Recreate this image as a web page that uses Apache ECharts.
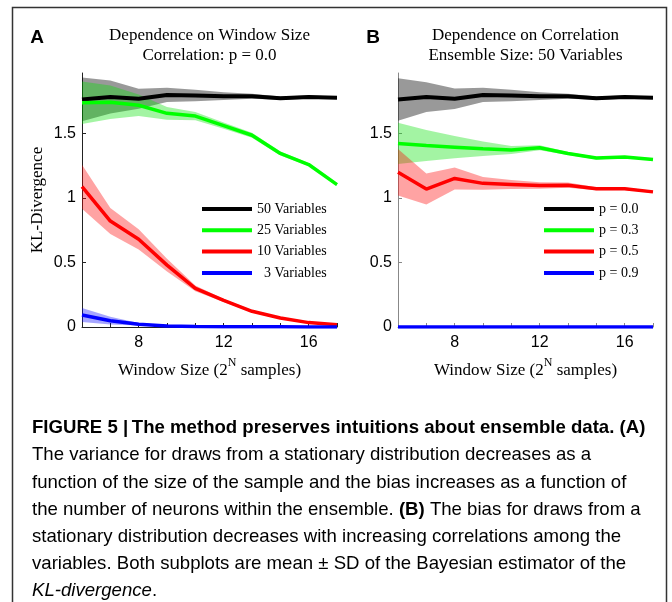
<!DOCTYPE html>
<html>
<head>
<meta charset="utf-8">
<script src="https://cdn.jsdelivr.net/npm/echarts@6/dist/echarts.min.js"></script>
<style>
  html, body { margin: 0; padding: 0; background: #fff; }
  #chart { width: 672px; height: 602px; }
</style>
</head>
<body>
<div id="chart"></div>
<script>
// Window size as log2 of the number of samples (one entry per simulated window)
const windowN = ['5.3', '6.6', '8', '9.3', '10.6', '12', '13.3', '14.6', '16', '17.2'];
const shownTicks = ['8', '12', '16'];
const yTicks = [0, 0.5, 1, 1.5];

// Panel A: ensemble size sweep, correlation p = 0.0 (mean and SD of KL-divergence)
const sizeNames = ['50 Variables', '25 Variables', '10 Variables', '3 Variables'];
const mean50 = [1.765, 1.783, 1.770, 1.800, 1.796, 1.790, 1.790, 1.775, 1.783, 1.778];
const sd50   = [0.170, 0.128, 0.077, 0.055, 0.045, 0.030, 0.020, 0.013, 0.012, 0.010];
const mean25 = [1.740, 1.744, 1.720, 1.657, 1.636, 1.562, 1.487, 1.346, 1.260, 1.104];
const sd25   = [0.165, 0.130, 0.084, 0.050, 0.032, 0.025, 0.020, 0.015, 0.012, 0.010];
const mean10 = [1.088, 0.822, 0.680, 0.480, 0.300, 0.206, 0.122, 0.070, 0.034, 0.018];
const sd10   = [0.170, 0.100, 0.078, 0.050, 0.022, 0.012, 0.010, 0.008, 0.006, 0.005];
const mean3  = [0.093, 0.049, 0.021, 0.008, 0.004, 0.002, 0.001, 0.001, 0.0005, 0.0005];
const sd3    = [0.055, 0.030, 0.010, 0.005, 0.003, 0.002, 0.001, 0.001, 0.001, 0.001];

// Panel B: correlation sweep, ensemble of 50 variables
const corrNames = ['p = 0.0', 'p = 0.3', 'p = 0.5', 'p = 0.9'];
const meanP00 = [1.765, 1.783, 1.770, 1.800, 1.796, 1.790, 1.790, 1.775, 1.783, 1.778];
const sdP00   = [0.165, 0.115, 0.080, 0.055, 0.045, 0.030, 0.020, 0.013, 0.012, 0.010];
const meanP03 = [1.424, 1.408, 1.395, 1.382, 1.372, 1.390, 1.346, 1.310, 1.318, 1.300];
const sdP03   = [0.160, 0.120, 0.087, 0.056, 0.031, 0.020, 0.012, 0.010, 0.008, 0.008];
const meanP05 = [1.200, 1.070, 1.152, 1.114, 1.106, 1.098, 1.100, 1.072, 1.072, 1.048];
const sdP05   = [0.180, 0.120, 0.085, 0.050, 0.035, 0.025, 0.020, 0.012, 0.010, 0.008];
const meanP09 = [0, 0, 0, 0, 0, 0, 0, 0, 0, 0];
const sdP09   = [0, 0, 0, 0, 0, 0, 0, 0, 0, 0];

const lineColors = ['#000000', '#00ff00', '#ff0000', '#0000ff'];
const bandColors = ['rgba(0,0,0,0.40)', 'rgba(0,225,0,0.36)', 'rgba(255,0,0,0.36)', 'rgba(0,0,255,0.35)'];

const SERIF = '"Liberation Serif", "Times New Roman", serif';
const SANS = '"Liberation Sans", Arial, sans-serif';

// mean ± SD band: invisible lower edge, then a stacked 2·SD area on top of it
function band(key, mean, sd, color, axis) {
  const common = {
    type: 'line', xAxisIndex: axis, yAxisIndex: axis, stack: key, stackStrategy: 'all',
    symbol: 'none', silent: true, z: 1, lineStyle: { width: 0, opacity: 0 }
  };
  return [
    Object.assign({ name: key + ' lower', data: mean.map((m, i) => m - sd[i]) }, common),
    Object.assign({ name: key + ' spread', data: sd.map(s => 2 * s),
      areaStyle: { color: color, opacity: 1 } }, common)
  ];
}

function meanLine(name, mean, color, axis, width) {
  return {
    type: 'line', name: name, xAxisIndex: axis, yAxisIndex: axis, data: mean,
    symbol: 'none', z: 3, color: color, itemStyle: { color: color },
    lineStyle: { color: color, width: width }
  };
}

const panelA = [mean50, mean25, mean10, mean3];
const panelAsd = [sd50, sd25, sd10, sd3];
const panelB = [meanP00, meanP03, meanP05, meanP09];
const panelBsd = [sdP00, sdP03, sdP05, sdP09];

const series = [];
panelA.forEach((m, k) => series.push(...band('A' + k, m, panelAsd[k], bandColors[k], 0)));
panelB.forEach((m, k) => series.push(...band('B' + k, m, panelBsd[k], bandColors[k], 1)));
panelA.forEach((m, k) => series.push(meanLine(sizeNames[k], m, lineColors[k], 0, k === 0 ? 4 : 3.5)));
panelB.forEach((m, k) => series.push(meanLine(corrNames[k], m, lineColors[k], 1, k === 0 ? 4 : 3.5)));

function xAxis(idx, axisColor) {
  return {
    type: 'category', gridIndex: idx, data: windowN, boundaryGap: false,
    axisLine: { lineStyle: { color: axisColor, width: 1 } },
    axisTick: { inside: true, length: 4, interval: 0, lineStyle: { color: axisColor } },
    axisLabel: {
      interval: (i, v) => shownTicks.includes(v), margin: 8,
      fontFamily: SANS, fontSize: 16, color: '#000'
    },
    splitLine: { show: false },
    name: 'Window Size (2{sup|N} samples)', nameLocation: 'middle', nameGap: 30,
    nameTextStyle: {
      fontFamily: SERIF, fontSize: 17, color: '#000',
      rich: { sup: { fontFamily: SERIF, fontSize: 12, color: '#000', padding: [0, 0, 16, 0] } }
    }
  };
}

function yAxis(idx, axisColor, withName) {
  return {
    type: 'value', gridIndex: idx, min: 0, max: 1.97,
    axisLine: { show: true, lineStyle: { color: axisColor, width: 1 } },
    axisTick: { show: true, inside: true, length: 4, customValues: yTicks, lineStyle: { color: axisColor } },
    axisLabel: { customValues: yTicks, margin: 6, fontFamily: SANS, fontSize: 16, color: '#000' },
    splitLine: { show: false },
    name: withName ? 'KL-Divergence' : '', nameLocation: 'middle', nameGap: 36, nameRotate: 90,
    nameTextStyle: { fontFamily: SERIF, fontSize: 17, color: '#000' }
  };
}

function legend(names, left, pad) {
  return {
    data: names, orient: 'vertical', left: left, top: 196, selectedMode: false,
    icon: 'rect', itemWidth: 50, itemHeight: 4, itemGap: 5.3,
    formatter: pad ? (n => (n.length < 12 ? '\u2007' : '') + n) : undefined,
    textStyle: { fontFamily: SERIF, fontSize: 14, lineHeight: 16, color: '#000' }
  };
}

function txt(x, y, text, font, extra) {
  return {
    type: 'text', x: x, y: y, silent: true,
    style: Object.assign({
      text: text, font: font, fill: '#000',
      align: 'left', textAlign: 'left', verticalAlign: 'middle', textVerticalAlign: 'middle'
    }, extra || {})
  };
}

// Figure caption, one entry per printed line
const captionLines = [
  '{b|FIGURE 5 |\u2009The method preserves intuitions about ensemble data. (A)}',
  'The variance for draws from a stationary distribution decreases as a',
  'function of the size of the sample and the bias increases as a function of',
  'the number of neurons within the ensemble. {b|(B)} The bias for draws from a',
  'stationary distribution decreases with increasing correlations among the',
  'variables. Both subplots are mean \u00b1 SD of the Bayesian estimator of the',
  '{i|KL-divergence}.'
];
const captionRich = {
  b: { fontFamily: SANS, fontSize: 18.6, fontWeight: 'bold', fill: '#000', color: '#000' },
  i: { fontFamily: SANS, fontSize: 18.6, fontStyle: 'italic', fill: '#000', color: '#000' }
};

const graphics = [
  { type: 'rect', silent: true, shape: { x: 12.5, y: 7.5, width: 654, height: 640 },
    style: { fill: 'none', stroke: '#333', lineWidth: 1.5 } },
  txt(37, 38, 'A', 'bold 19px ' + SANS, { align: 'center', textAlign: 'center' }),
  txt(373, 38, 'B', 'bold 19px ' + SANS, { align: 'center', textAlign: 'center' }),
  txt(209.5, 46, 'Dependence on Window Size\nCorrelation: p = 0.0', '17px ' + SERIF,
      { align: 'center', textAlign: 'center', lineHeight: 20 }),
  txt(525.5, 46, 'Dependence on Correlation\nEnsemble Size: 50 Variables', '17px ' + SERIF,
      { align: 'center', textAlign: 'center', lineHeight: 20 })
];
captionLines.forEach((line, k) => {
  graphics.push(txt(32, 428 + k * 27.2, line, '18.6px ' + SANS, { rich: captionRich }));
});

const chart = echarts.init(document.getElementById('chart'), null, { renderer: 'canvas' });
chart.setOption({
  animation: false,
  backgroundColor: '#fff',
  grid: [
    { left: 82, top: 73, width: 255, height: 254 },
    { left: 398, top: 73, width: 255, height: 254 }
  ],
  xAxis: [xAxis(0, '#222'), xAxis(1, '#888')],
  yAxis: [yAxis(0, '#222', true), yAxis(1, '#888', false)],
  legend: [legend(sizeNames, 197, true), legend(corrNames, 539, false)],
  series: series,
  graphic: graphics
});
</script>
</body>
</html>
